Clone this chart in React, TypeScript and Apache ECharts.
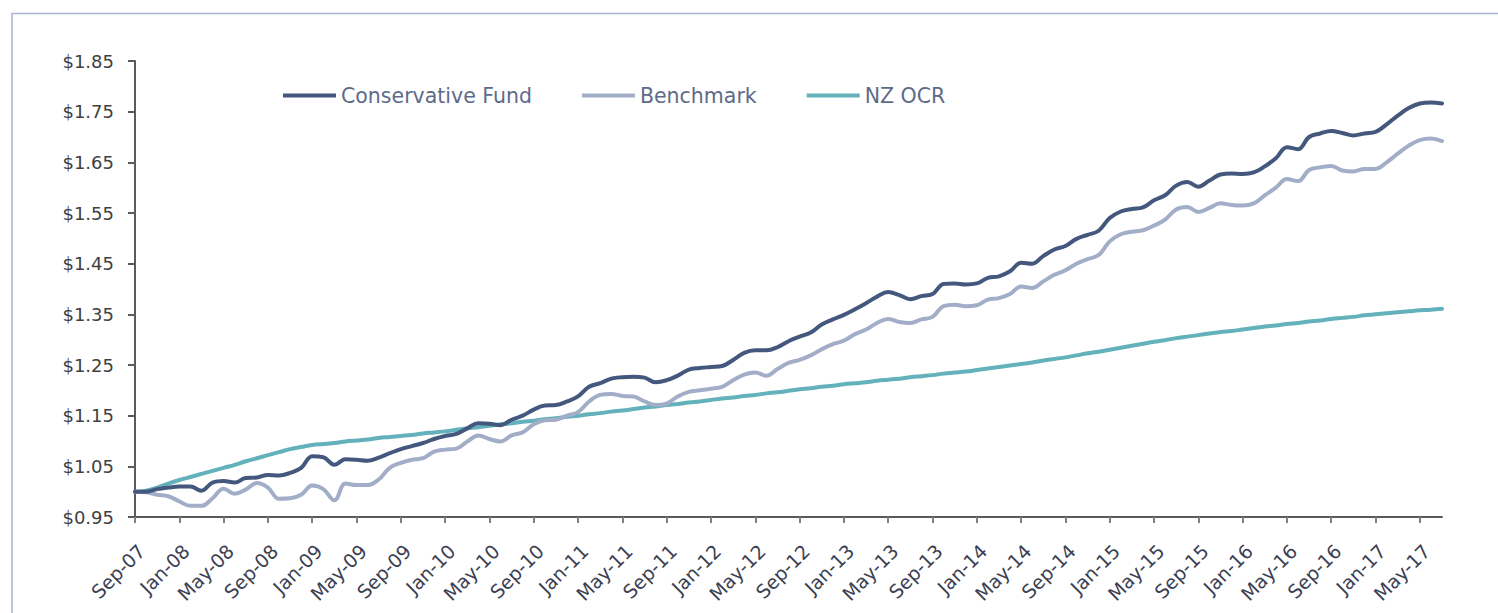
import React, { useEffect, useRef } from "react";
import * as echarts from "echarts";

const MONTH_NAMES = ["Jan", "Feb", "Mar", "Apr", "May", "Jun", "Jul", "Aug", "Sep", "Oct", "Nov", "Dec"];
// Sep-07 .. Jul-17 monthly
const categories: string[] = [];
for (let k = 0; k < 119; k++) {
  const m = (8 + k) % 12;
  const y = 7 + Math.floor((8 + k) / 12);
  categories.push(MONTH_NAMES[m] + "-" + String(y).padStart(2, "0"));
}

const conservativeFund = [
  1.000, 1.000, 1.005, 1.008, 1.010, 1.010, 1.002, 1.018, 1.021, 1.018,
  1.027, 1.028, 1.033, 1.032, 1.037, 1.047, 1.070, 1.068, 1.053, 1.064,
  1.063, 1.061, 1.067, 1.076, 1.084, 1.090, 1.096, 1.104, 1.110, 1.114,
  1.125, 1.135, 1.134, 1.131, 1.142, 1.150, 1.162, 1.170, 1.171, 1.178,
  1.188, 1.207, 1.214, 1.223, 1.226, 1.227, 1.225, 1.216, 1.220, 1.229,
  1.241, 1.244, 1.246, 1.248, 1.260, 1.274, 1.279, 1.279, 1.285, 1.297,
  1.306, 1.314, 1.330, 1.340, 1.349, 1.360, 1.372, 1.385, 1.394, 1.388,
  1.380, 1.386, 1.390, 1.410, 1.411, 1.409, 1.411, 1.422, 1.425, 1.435,
  1.452, 1.450, 1.465, 1.478, 1.485, 1.499, 1.507, 1.515, 1.540, 1.553,
  1.558, 1.561, 1.575, 1.585, 1.604, 1.611, 1.602, 1.614, 1.626, 1.628,
  1.627, 1.630, 1.642, 1.658, 1.680, 1.676, 1.700, 1.707, 1.712, 1.708,
  1.703, 1.707, 1.710, 1.725, 1.742, 1.757, 1.766, 1.768, 1.766,
];

const benchmark = [
  1.000, 0.999, 0.994, 0.991, 0.981, 0.972, 0.972, 0.987, 1.006, 0.996,
  1.004, 1.017, 1.008, 0.986, 0.987, 0.994, 1.012, 1.005, 0.983, 1.016,
  1.013, 1.013, 1.024, 1.047, 1.057, 1.063, 1.066, 1.079, 1.083, 1.085,
  1.099, 1.111, 1.104, 1.099, 1.111, 1.117, 1.133, 1.141, 1.142, 1.150,
  1.157, 1.178, 1.191, 1.193, 1.189, 1.188, 1.178, 1.171, 1.174, 1.188,
  1.197, 1.200, 1.203, 1.207, 1.220, 1.231, 1.235, 1.229, 1.242, 1.254,
  1.260, 1.269, 1.281, 1.291, 1.298, 1.311, 1.320, 1.333, 1.341, 1.335,
  1.333, 1.340, 1.345, 1.366, 1.369, 1.366, 1.368, 1.379, 1.382, 1.390,
  1.405, 1.402, 1.415, 1.428, 1.437, 1.450, 1.459, 1.467, 1.494, 1.508,
  1.513, 1.516, 1.525, 1.537, 1.557, 1.562, 1.552, 1.560, 1.569, 1.566,
  1.565, 1.569, 1.585, 1.600, 1.617, 1.613, 1.635, 1.640, 1.643, 1.634,
  1.632, 1.637, 1.637, 1.650, 1.667, 1.683, 1.694, 1.697, 1.692,
];

const nzOcr = [
  1.000, 1.002, 1.008, 1.016, 1.023, 1.029, 1.035, 1.041, 1.047, 1.053,
  1.060, 1.066, 1.072, 1.078, 1.084, 1.088, 1.092, 1.094, 1.096, 1.099,
  1.101, 1.103, 1.106, 1.108, 1.110, 1.112, 1.115, 1.117, 1.119, 1.122,
  1.125, 1.127, 1.130, 1.133, 1.135, 1.138, 1.140, 1.143, 1.145, 1.148,
  1.150, 1.153, 1.155, 1.158, 1.160, 1.163, 1.166, 1.168, 1.171, 1.173,
  1.176, 1.178, 1.181, 1.184, 1.186, 1.189, 1.191, 1.194, 1.196, 1.199,
  1.202, 1.204, 1.207, 1.209, 1.212, 1.214, 1.216, 1.219, 1.221, 1.223,
  1.226, 1.228, 1.230, 1.233, 1.235, 1.237, 1.240, 1.243, 1.246, 1.249,
  1.252, 1.255, 1.259, 1.262, 1.265, 1.269, 1.273, 1.276, 1.280, 1.284,
  1.288, 1.292, 1.296, 1.299, 1.303, 1.306, 1.309, 1.312, 1.315, 1.317,
  1.320, 1.323, 1.326, 1.328, 1.331, 1.333, 1.336, 1.338, 1.341, 1.343,
  1.345, 1.348, 1.350, 1.352, 1.354, 1.356, 1.358, 1.359, 1.361,
];

const seriesNames = ["Conservative Fund", "Benchmark", "NZ OCR"];
const seriesColors = ["#44577d", "#a2adc7", "#63b1bb"];

const FONT = "DejaVu Sans";

export default function App() {
  const ref = useRef<HTMLDivElement>(null);
  useEffect(() => {
    if (!ref.current) return;
    const chart = echarts.init(ref.current, undefined, { renderer: "svg" });
    const dataSets = [conservativeFund, benchmark, nzOcr];
    chart.setOption({
      animation: false,
      backgroundColor: "#ffffff",
      graphic: [
        {
          type: "rect",
          z: -10,
          shape: { x: 12, y: 13.5, width: 1600, height: 700 },
          style: { fill: "none", stroke: "#a9b5cd", lineWidth: 1.5 },
        },
      ],
      legend: {
        left: 283,
        top: 85,
        padding: 0,
        icon: "rect",
        itemWidth: 53,
        itemHeight: 4,
        itemGap: 50,
        textStyle: { fontFamily: FONT, fontSize: 20.5, color: "#5d6b89" },
        data: seriesNames,
      },
      grid: { left: 135, right: 56, top: 61, bottom: 96, containLabel: false },
      xAxis: {
        type: "category",
        data: categories,
        boundaryGap: false,
        axisLine: { lineStyle: { color: "#5a5a5a", width: 2 } },
        axisTick: { interval: 3, length: 6, lineStyle: { color: "#7f7f7f", width: 2 } },
        axisLabel: {
          interval: 3,
          rotate: 45,
          margin: 24,
          verticalAlign: "top",
          align: "right",
          fontFamily: FONT,
          fontSize: 19,
          color: "#3b4052",
        },
        splitLine: { show: false },
      },
      yAxis: {
        type: "value",
        min: 0.95,
        max: 1.85,
        interval: 0.1,
        axisLine: { show: true, lineStyle: { color: "#5a5a5a", width: 2 } },
        axisTick: { show: true, length: 7, lineStyle: { color: "#5a5a5a", width: 2 } },
        axisLabel: {
          margin: 21,
          fontFamily: FONT,
          fontSize: 18,
          color: "#404040",
          formatter: (v: number) => "$" + v.toFixed(2),
        },
        splitLine: { show: false },
      },
      series: seriesNames.map((name, i) => ({
        name,
        type: "line",
        data: dataSets[i],
        smooth: 0.4,
        symbol: "none",
        z: 3 - i,
        lineStyle: { color: seriesColors[i], width: 4, cap: "round", join: "round" },
        itemStyle: { color: seriesColors[i] },
      })),
    });
    return () => chart.dispose();
  }, []);
  return (
    <div
      ref={ref}
      style={{ position: "absolute", left: 0, top: 0, width: 1498, height: 613 }}
    />
  );
}
